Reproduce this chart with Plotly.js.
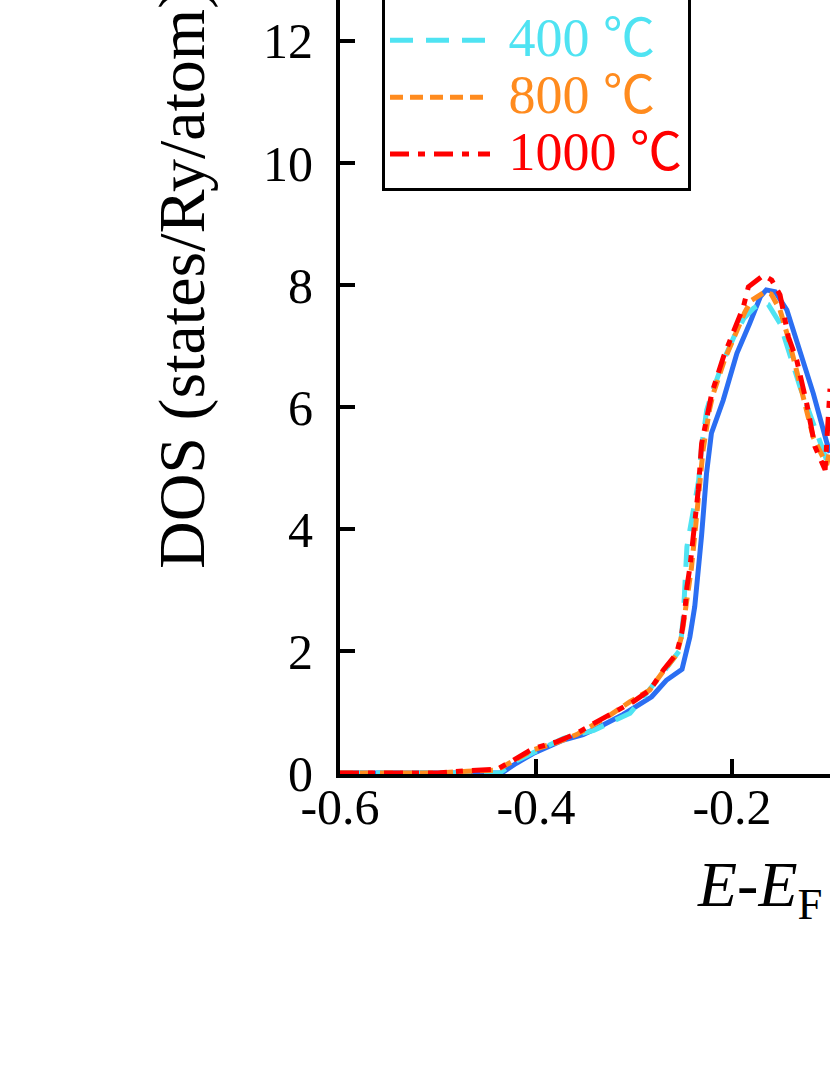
<!DOCTYPE html>
<html>
<head>
<meta charset="utf-8">
<script src="https://cdn.plot.ly/plotly-3.0.1.min.js"></script>
<style>
html, body { margin: 0; padding: 0; background: #fff; overflow: hidden; width: 830px; height: 1075px; }
#chart { position: absolute; left: 0; top: -60px; width: 830px; height: 1135px; }
</style>
</head>
<body>
<div id="chart"></div>
<script>
// ---- data ----
const seriesLabels = ["as-cast", "400", "800", "1000"];
const seriesUnits = ["", "\u2103", "\u2103", "\u2103"];

const eAsCast = [-0.6, -0.5, -0.435, -0.42, -0.403, -0.372, -0.352, -0.335, -0.311, -0.282, -0.267, -0.251, -0.243, -0.238, -0.234, -0.231, -0.226, -0.221, -0.209, -0.195, -0.182, -0.171, -0.165, -0.156, -0.144, -0.131, -0.117, -0.103, -0.1];
const dosAsCast = [0, 0, 0, 0.16, 0.32, 0.54, 0.63, 0.76, 0.96, 1.25, 1.52, 1.70, 2.23, 2.73, 3.33, 3.9, 4.91, 5.57, 6.11, 6.88, 7.37, 7.81, 7.92, 7.89, 7.59, 6.93, 6.22, 5.40, 5.25];

const e400 = [-0.6, -0.5, -0.437, -0.42, -0.40, -0.372, -0.341, -0.304, -0.2735, -0.263, -0.253, -0.2497, -0.246, -0.2395, -0.234, -0.231, -0.2258, -0.221, -0.209, -0.198, -0.188, -0.178, -0.168, -0.163, -0.151, -0.1306, -0.1092, -0.1034, -0.1];
const dos400 = [0, 0, 0, 0.2, 0.36, 0.57, 0.70, 0.98, 1.58, 1.80, 2.02, 2.56, 3.71, 4.3, 4.8, 5.35, 5.95, 6.2, 6.75, 7.15, 7.45, 7.62, 7.72, 7.68, 7.37, 6.33, 5.35, 5.13, 5.3];

const e800 = [-0.6, -0.5, -0.47, -0.44, -0.423, -0.403, -0.379, -0.3585, -0.3415, -0.3245, -0.304, -0.284, -0.27, -0.2565, -0.2513, -0.248, -0.2445, -0.2415, -0.238, -0.234, -0.2295, -0.223, -0.2195, -0.2075, -0.197, -0.187, -0.18, -0.167, -0.16, -0.151, -0.142, -0.134, -0.124, -0.117, -0.1034, -0.1];
const dos800 = [0, 0, 0.03, 0.05, 0.2, 0.38, 0.5, 0.63, 0.79, 0.95, 1.17, 1.36, 1.67, 1.94, 2.25, 2.62, 3.0, 3.35, 3.9, 4.55, 5.3, 5.95, 6.2, 6.78, 7.18, 7.55, 7.75, 7.88, 7.85, 7.59, 7.1, 6.55, 5.95, 5.5, 5.05, 5.3];

const e1000 = [-0.6, -0.5, -0.47, -0.44, -0.423, -0.403, -0.379, -0.3585, -0.3415, -0.321, -0.3007, -0.2837, -0.27, -0.2565, -0.2513, -0.248, -0.246, -0.2429, -0.2395, -0.2344, -0.231, -0.224, -0.2207, -0.2088, -0.1986, -0.1884, -0.1833, -0.168, -0.1595, -0.151, -0.1425, -0.134, -0.1238, -0.1153, -0.105, -0.1];
const dos1000 = [0, 0, 0.04, 0.06, 0.21, 0.40, 0.51, 0.65, 0.81, 0.98, 1.17, 1.36, 1.69, 1.96, 2.29, 2.67, 3.05, 3.38, 3.85, 4.64, 5.4, 6.0, 6.22, 6.82, 7.23, 7.64, 7.97, 8.16, 8.08, 7.84, 7.15, 6.77, 6.06, 5.35, 4.97, 6.3];

const yTickVals = [0, 2, 4, 6, 8, 10, 12];
const xTickVals = [-0.6, -0.4, -0.2];
const xTickText = ["-0.6", "-0.4", "-0.2"];

// ---- styles ----
const colors = ["#2b6ef2", "#4fe3f2", "#ff8b1e", "#ff0000"];
const dashes = ["solid", "23px,13px", "13px,7px", "19px,9px,7px,9px"];
const serif = "Liberation Serif, Times New Roman, serif";

function legendName(i) {
  let html = '<span style="font-size:54px;color:' + colors[i] + '">&nbsp;' + seriesLabels[i] + (seriesUnits[i] ? '&nbsp;' : '') + '</span>';
  if (seriesUnits[i]) {
    html += '<span style="font-size:52px;font-family:Noto Sans CJK JP;color:' + colors[i] + '">' + seriesUnits[i] + '</span>';
  }
  return html;
}

const xs = [eAsCast, e400, e800, e1000];
const ys = [dosAsCast, dos400, dos800, dos1000];

const traces = xs.map((x, i) => ({
  type: "scatter",
  mode: "lines",
  x: x,
  y: ys[i],
  name: legendName(i),
  line: { color: colors[i], width: 5, dash: dashes[i] }
}));

const layout = {
  width: 830,
  height: 1135,
  margin: { l: 340, r: 0, t: 60, b: 301, autoexpand: false },
  paper_bgcolor: "#fff",
  plot_bgcolor: "#fff",
  font: { family: serif, color: "#000", size: 50 },
  showlegend: true,
  legend: {
    x: 0.0857, xanchor: "left",
    y: 0.7535, yanchor: "bottom",
    bgcolor: "#fff",
    bordercolor: "#000",
    borderwidth: 3,
    font: { family: serif, size: 41.5, color: "#000" },
    itemwidth: 100
  },
  xaxis: {
    range: [-0.6, -0.1],
    tickvals: xTickVals,
    ticktext: xTickText,
    ticks: "inside",
    ticklen: 15,
    tickwidth: 4,
    tickcolor: "#000",
    showline: true,
    linewidth: 4,
    linecolor: "#000",
    mirror: false,
    showgrid: false,
    zeroline: false,
    layer: "below traces",
    ticklabelstandoff: -14,
    tickfont: { family: serif, size: 50, color: "#000" }
  },
  yaxis: {
    range: [-0.016, 12.672],
    tickvals: yTickVals,
    ticks: "inside",
    ticklen: 15,
    tickwidth: 4,
    tickcolor: "#000",
    showline: true,
    linewidth: 4,
    linecolor: "#000",
    mirror: false,
    showgrid: false,
    zeroline: false,
    layer: "below traces",
    ticklabelstandoff: 13,
    tickfont: { family: serif, size: 50, color: "#000" }
  },
  annotations: [
    {
      text: "DOS (states/Ry/atom)",
      xref: "paper", yref: "paper",
      x: -0.321, y: 0.6405,
      xanchor: "center", yanchor: "middle",
      textangle: -90,
      showarrow: false,
      font: { family: serif, size: 66, color: "#000" }
    },
    {
      text: "<i>E</i>-<i>E</i><sub>F</sub>",
      xref: "paper", yref: "paper",
      x: 0.7245, y: -0.0945,
      xanchor: "left", yanchor: "top",
      showarrow: false,
      font: { family: serif, size: 64, color: "#000" }
    }
  ]
};

Plotly.newPlot("chart", traces, layout, { staticPlot: true, displayModeBar: false });
</script>
</body>
</html>
